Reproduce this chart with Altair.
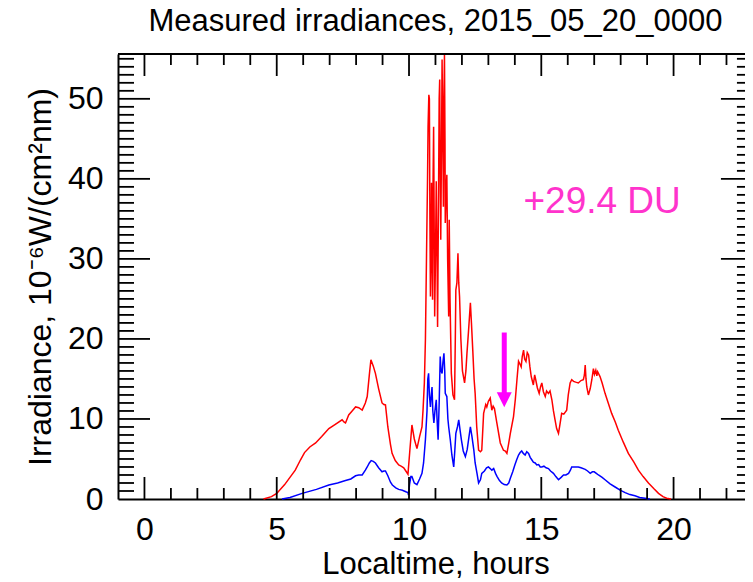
import altair as alt
import pandas as pd

FONT = "Liberation Sans"

# ---- data ----
red_t = [4.5, 4.8, 5.0, 5.3, 5.5, 5.7, 5.9, 6.05, 6.25, 6.47, 6.7, 6.97, 7.2, 7.47, 7.55, 7.6, 7.72, 7.85,
         7.98, 8.1, 8.23, 8.35, 8.42, 8.5, 8.56, 8.65, 8.73, 8.85, 8.98, 9.05, 9.11, 9.2, 9.3, 9.36, 9.48,
         9.61, 9.7, 9.8, 9.88, 9.96, 10.03, 10.11, 10.2, 10.3, 10.4, 10.49, 10.53, 10.58, 10.62, 10.66,
         10.7, 10.72, 10.75, 10.77, 10.79, 10.81, 10.83, 10.85, 10.87, 10.89, 10.91, 10.93, 10.95, 10.97,
         11.0, 11.03, 11.06, 11.08, 11.11, 11.14, 11.16, 11.18, 11.2, 11.23, 11.25, 11.28, 11.3, 11.32,
         11.34, 11.36, 11.37, 11.4, 11.43, 11.46, 11.5, 11.52, 11.55, 11.6, 11.66, 11.72, 11.75, 11.77,
         11.81, 11.85, 11.88, 11.91, 11.96, 12.02, 12.1, 12.15, 12.19, 12.25, 12.32, 12.36, 12.41, 12.46,
         12.5, 12.56, 12.63, 12.7, 12.75, 12.82, 12.9, 12.94, 13.0, 13.07, 13.13, 13.18, 13.23, 13.32,
         13.45, 13.57, 13.64, 13.7, 13.76, 13.83, 13.95, 14.02, 14.08, 14.14, 14.2, 14.24, 14.28, 14.33,
         14.37, 14.42, 14.47, 14.52, 14.57, 14.62, 14.7, 14.75, 14.79, 14.85, 14.92, 14.97, 15.02, 15.08,
         15.15, 15.2, 15.27, 15.33, 15.4, 15.46, 15.52, 15.58, 15.65, 15.7, 15.77, 15.85, 15.96, 16.02,
         16.09, 16.15, 16.22, 16.3, 16.4, 16.5, 16.59, 16.63, 16.66, 16.69, 16.72, 16.78, 16.85, 16.91,
         16.97, 17.01, 17.06, 17.1, 17.13, 17.22, 17.3, 17.41, 17.53, 17.66, 17.8, 17.91, 18.1, 18.29,
         18.5, 18.67, 18.85, 19.05, 19.25, 19.43, 19.6, 19.74, 19.9]
red_v = [0.0, 0.3, 0.7, 1.8, 2.7, 3.6, 4.9, 5.8, 6.5, 7.0, 7.8, 8.8, 9.3, 9.9, 9.6, 9.5, 10.5, 11.0,
         11.5, 11.4, 11.1, 12.0, 12.8, 15.5, 17.4, 16.6, 15.7, 13.8, 12.0, 11.8, 11.75, 9.0, 6.8, 5.7, 4.8,
         4.25, 4.1, 3.9, 3.5, 3.1, 6.0, 9.25, 7.5, 6.3, 7.8, 9.0, 11.1, 14.5, 19.9, 30.0,
         40.0, 46.5, 50.5, 50.0, 35.0, 25.3, 30.0, 39.5, 32.0, 24.9, 40.0, 46.5, 35.0, 22.8,
         30.0, 39.7, 30.0, 21.5, 35.0, 50.0, 52.4, 40.0, 32.4, 45.0, 54.9, 45.0, 36.5, 50.0,
         55.5, 45.0, 34.5, 38.0, 40.5, 30.0, 22.8, 34.9, 25.0, 15.7, 13.0, 12.4, 20.0, 26.1,
         27.0, 30.7, 27.0, 25.3, 20.0, 16.0, 14.5, 16.0, 18.2, 21.0, 24.5, 22.0, 18.6, 15.0,
         13.2, 9.0, 6.1, 5.9, 6.1, 10.7, 11.8, 11.5, 12.2, 12.6, 11.1, 11.6, 11.3, 9.5,
         7.0, 6.1, 6.0, 5.7, 6.8, 8.2, 10.3, 12.5, 14.9, 17.2, 16.8, 16.5, 17.8, 18.6,
         17.5, 17.2, 18.3, 18.0, 16.5, 15.3, 14.25, 15.5, 14.9, 13.9, 13.2, 14.0, 14.5, 13.4,
         12.8, 13.5, 13.2, 13.5, 12.4, 11.0, 9.9, 8.8, 8.2, 9.2, 10.7, 10.6, 11.1, 13.0,
         14.5, 14.9, 14.7, 14.6, 14.5, 14.8, 14.9, 15.5, 16.75, 15.0, 14.0, 13.0, 13.8, 14.9,
         16.3, 15.6, 16.1, 15.4, 15.9, 15.3, 14.5, 13.2, 12.0, 10.7, 9.6, 8.6, 7.1, 5.7,
         4.6, 3.6, 2.8, 2.0, 1.3, 0.7, 0.3, 0.1, 0.0]

blue_t = [5.2, 5.5, 5.96, 6.5, 6.97, 7.3, 7.6, 7.8, 7.98, 8.1, 8.23, 8.35, 8.42, 8.5, 8.57, 8.65, 8.73,
          8.85, 8.98, 9.05, 9.11, 9.2, 9.3, 9.37, 9.5, 9.61, 9.75, 9.88, 9.96, 9.98, 10.02, 10.07, 10.11,
          10.2, 10.3, 10.4, 10.49, 10.55, 10.62, 10.68, 10.71, 10.74, 10.77, 10.81, 10.84, 10.87, 10.9,
          10.94, 10.98, 11.03, 11.06, 11.1, 11.14, 11.18, 11.21, 11.25, 11.28, 11.32, 11.35, 11.37, 11.43,
          11.47, 11.5, 11.56, 11.62, 11.69, 11.73, 11.77, 11.83, 11.88, 11.93, 11.98, 12.05, 12.13, 12.2,
          12.25, 12.32, 12.38, 12.45, 12.5, 12.57, 12.63, 12.7, 12.75, 12.85, 12.93, 13.0, 13.07, 13.13,
          13.2, 13.27, 13.33, 13.42, 13.5, 13.6, 13.7, 13.77, 13.83, 13.92, 14.0, 14.07, 14.14, 14.2,
          14.26, 14.32, 14.39, 14.45, 14.52, 14.58, 14.64, 14.7, 14.77, 14.83, 14.9, 14.96, 15.02, 15.1,
          15.18, 15.27, 15.35, 15.46, 15.55, 15.65, 15.75, 15.84, 15.93, 16.03, 16.1, 16.15, 16.25, 16.4,
          16.5, 16.66, 16.75, 16.85, 16.93, 17.0, 17.08, 17.16, 17.3, 17.41, 17.6, 17.79, 17.98, 18.17,
          18.35, 18.54, 18.72, 18.92, 19.1]
blue_v = [0.0, 0.2, 0.7, 1.2, 1.75, 2.0, 2.3, 2.5, 2.9, 3.0, 3.0, 3.6, 4.0, 4.5, 4.8, 4.7, 4.5,
          3.9, 3.4, 3.5, 3.5, 2.9, 2.1, 1.75, 1.4, 1.2, 1.1, 0.9, 0.8, 0.5, 1.8, 2.8, 2.8,
          2.0, 1.8, 2.5, 3.2, 4.5, 7.4, 11.0, 15.0, 15.7, 13.0, 11.5, 13.0, 14.0, 11.0,
          9.5, 11.0, 12.4, 10.0, 7.4, 12.0, 17.8, 16.0, 15.7, 17.0, 18.2, 16.0, 13.2, 12.8,
          10.0, 9.0, 7.4, 5.5, 4.0, 6.0, 8.2, 9.0, 9.9, 8.6, 7.4, 6.0, 5.3, 6.2,
          7.4, 9.0, 7.8, 6.1, 4.5, 3.2, 2.0, 2.4, 3.2, 3.5, 3.9, 4.0, 3.8, 3.6,
          3.8, 3.2, 2.8, 2.3, 2.0, 1.8, 1.75, 2.0, 2.6, 3.4, 4.25, 4.9, 5.5, 5.8,
          6.0, 5.7, 5.5, 5.9, 5.7, 5.2, 4.9, 4.6, 4.5, 4.25, 4.3, 4.0, 4.0, 4.1,
          3.9, 3.8, 3.5, 3.2, 2.8, 2.4, 2.7, 3.0, 3.0, 3.2, 3.6, 4.0, 4.0, 4.0,
          3.9, 3.7, 3.5, 3.2, 3.4, 3.4, 3.2, 3.0, 2.7, 2.4, 1.9, 1.5, 1.1, 0.8,
          0.55, 0.4, 0.2, 0.1, 0.0]

x_labels = [0, 5, 10, 15, 20]
x_minor = [1, 2, 3, 4, 6, 7, 8, 9, 11, 12, 13, 14, 16, 17, 18, 19, 21, 22]
y_labels = [0, 10, 20, 30, 40, 50]
y_major = [10, 20, 30, 40, 50]
y_minor = [1, 2, 3, 4, 5, 6, 7, 8, 9, 11, 12, 13, 14, 15, 16, 17, 18, 19,
           21, 22, 23, 24, 25, 26, 27, 28, 29, 31, 32, 33, 34, 35, 36, 37, 38, 39,
           41, 42, 43, 44, 45, 46, 47, 48, 49, 51, 52, 53, 54, 55]

arrow_t = [13.6]
arrow_top = [20.8]
arrow_bottom = [13.2]
arrow_head = [12.4]
note_t = [17.3]
note_v = [35.7]
note_text = ["+29.4 DU"]

title_text = ["Measured irradiances, 2015_05_20_0000"]
x_title = "Localtime, hours"
y_title = "Irradiance, 10\u207b\u2076W/(cm\u00b2nm)"

# ---- chart ----
# visible plot area ends at the page edge; the frame's right side (x = 23) lies just beyond it
W, H = 627, 445
X_MIN, X_VIS_MAX, X_FRAME_MAX = -1, 22.7, 23
PX_PER_H = W / (X_VIS_MAX - X_MIN)
RIGHT = (X_FRAME_MAX - X_MIN) * PX_PER_H      # pixel position of the (clipped) right frame
CENTER = RIGHT / 2

xs = alt.Scale(domain=[X_MIN, X_VIS_MAX], nice=False, zero=False)
ys = alt.Scale(domain=[0, 55.6], nice=False, zero=False)

x_axis = alt.Axis(values=x_labels, ticks=False, tickSize=0, domain=True, domainColor="black",
                  domainWidth=2, grid=False, labelFont=FONT, labelFontSize=32, labelColor="black",
                  labelPadding=15, labelFlush=False, labelOverlap=False, format="d",
                  title=x_title, titleFont=FONT, titleFontSize=31, titleFontWeight="normal",
                  titleColor="black", titleX=CENTER, titleY=74, titleAlign="center",
                  titleBaseline="alphabetic")
y_axis = alt.Axis(values=y_labels, ticks=False, tickSize=0, domain=True, domainColor="black",
                  domainWidth=2, grid=False, labelFont=FONT, labelFontSize=32, labelColor="black",
                  labelPadding=15, labelFlush=False, labelOverlap=False, labelBaseline="middle",
                  format="d",
                  title=y_title, titleFont=FONT, titleFontSize=32, titleFontWeight="normal",
                  titleColor="black", titleX=-78, titleY=H / 2, titleAngle=270, titleAlign="center",
                  titleBaseline="middle")

def X(field):
    return alt.X(field, type="quantitative", scale=xs, axis=x_axis)

def Y(field):
    return alt.Y(field, type="quantitative", scale=ys, axis=y_axis)

df_red = pd.DataFrame({"t": red_t, "v": red_v})
df_blue = pd.DataFrame({"t": blue_t, "v": blue_v})

red = alt.Chart(df_red).mark_line(color="#ff0000", strokeWidth=1.5).encode(x=X("t"), y=Y("v"))
blue = alt.Chart(df_blue).mark_line(color="#0000ff", strokeWidth=1.5).encode(x=X("t"), y=Y("v"))

def yticks(vals, length):
    d = pd.DataFrame({"v": vals})
    left = alt.Chart(d).mark_rule(color="black", strokeWidth=1.8).encode(
        y=Y("v"), x=alt.value(0), x2=alt.value(length))
    right = alt.Chart(d).mark_rule(color="black", strokeWidth=1.8).encode(
        y=Y("v"), x=alt.value(RIGHT), x2=alt.value(RIGHT - length))
    return [left, right]

def xticks(vals, length):
    d = pd.DataFrame({"t": vals})
    bottom = alt.Chart(d).mark_rule(color="black", strokeWidth=1.8).encode(
        x=X("t"), y=alt.value(H), y2=alt.value(H - length))
    top = alt.Chart(d).mark_rule(color="black", strokeWidth=1.8).encode(
        x=X("t"), y=alt.value(0), y2=alt.value(length))
    return [bottom, top]

top_frame = alt.Chart(pd.DataFrame({"a": [0]})).mark_rule(color="black", strokeWidth=2).encode(
    x=alt.value(0), x2=alt.value(RIGHT), y=alt.value(0))

df_arrow = pd.DataFrame({"t": arrow_t, "v1": arrow_top, "v2": arrow_bottom, "vh": arrow_head})
shaft = alt.Chart(df_arrow).mark_rule(color="#ff00ff", strokeWidth=5).encode(
    x=X("t"), y=Y("v1"), y2="v2:Q")
head = alt.Chart(df_arrow).mark_point(shape="M-1,-1L1,-1L0,1Z", size=225, filled=True,
                                      color="#ff00ff", opacity=1, strokeWidth=0).encode(
    x=X("t"), y=Y("vh"))

df_note = pd.DataFrame({"t": note_t, "v": note_v, "label": note_text})
note = alt.Chart(df_note).mark_text(font=FONT, fontSize=37, color="#ff33cc", align="center",
                                    baseline="alphabetic").encode(
    x=X("t"), y=Y("v"), text="label:N")

title = alt.Chart(pd.DataFrame({"label": title_text})).mark_text(
    font=FONT, fontSize=31, color="black", align="center", baseline="alphabetic").encode(
    x=alt.value(CENTER), y=alt.value(-23), text="label:N")

layers = [red, blue] + yticks(y_major, 32) + yticks(y_minor, 16) + xticks(x_labels, 22) + \
         xticks(x_minor, 11) + [top_frame, shaft, head, note, title]

chart = alt.layer(*layers).properties(
    width=W, height=H,
    autosize=alt.AutoSizeParams(type="none"),
    padding={"left": 110, "top": 46, "right": 0, "bottom": 80},
).configure_view(stroke=None)

chart.save("out.html", embed_options={"renderer": "svg", "actions": False})
